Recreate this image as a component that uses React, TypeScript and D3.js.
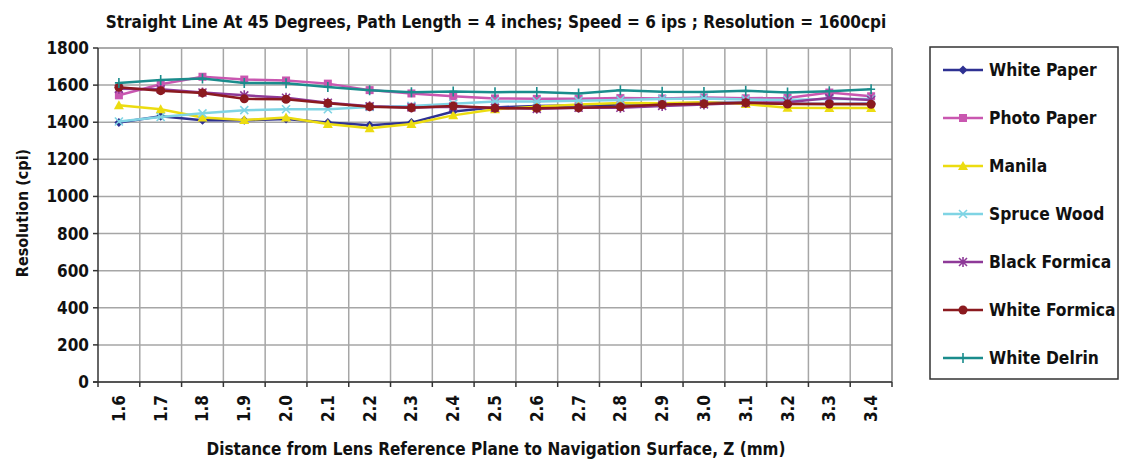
import React from "react";
import * as d3 from "d3";

const categories = ["1.6","1.7","1.8","1.9","2.0","2.1","2.2","2.3","2.4","2.5","2.6","2.7","2.8","2.9","3.0","3.1","3.2","3.3","3.4"];
const yTicks = [0, 200, 400, 600, 800, 1000, 1200, 1400, 1600, 1800];

const whitePaper = [1398, 1432, 1410, 1410, 1418, 1398, 1384, 1398, 1458, 1480, 1488, 1490, 1495, 1500, 1505, 1505, 1500, 1498, 1500];
const photoPaper = [1545, 1605, 1645, 1630, 1625, 1608, 1573, 1555, 1540, 1528, 1526, 1526, 1530, 1528, 1533, 1529, 1531, 1560, 1540];
const manila = [1492, 1470, 1425, 1412, 1426, 1390, 1367, 1390, 1437, 1470, 1484, 1495, 1503, 1502, 1508, 1498, 1478, 1477, 1476];
const spruceWood = [1404, 1428, 1448, 1465, 1470, 1470, 1482, 1488, 1500, 1512, 1512, 1516, 1520, 1525, 1528, 1522, 1520, 1525, 1525];
const blackFormica = [1580, 1578, 1560, 1545, 1532, 1505, 1486, 1480, 1484, 1478, 1472, 1478, 1478, 1488, 1496, 1505, 1508, 1530, 1520];
const whiteFormica = [1588, 1570, 1558, 1526, 1524, 1502, 1484, 1478, 1487, 1476, 1475, 1478, 1483, 1495, 1499, 1505, 1498, 1498, 1497];
const whiteDelrin = [1612, 1628, 1635, 1612, 1610, 1590, 1572, 1562, 1565, 1562, 1563, 1555, 1572, 1564, 1563, 1570, 1560, 1567, 1578];

const seriesNames = ["White Paper", "Photo Paper", "Manila", "Spruce Wood", "Black Formica", "White Formica", "White Delrin"];
const seriesValues = [whitePaper, photoPaper, manila, spruceWood, blackFormica, whiteFormica, whiteDelrin];
const seriesColors = ["#2e3192", "#c957b0", "#ecdc10", "#7fd4e4", "#8e3a98", "#8b1a1f", "#1a8c8c"];
const seriesMarkers = ["diamond", "square", "triangle", "x", "asterisk", "circle", "plus"];

const title = "Straight Line At 45 Degrees, Path Length = 4 inches; Speed = 6 ips ; Resolution = 1600cpi";
const xTitle = "Distance from Lens Reference Plane to Navigation Surface, Z (mm)";
const yTitle = "Resolution (cpi)";

const FONT = "'DejaVu Sans Condensed', 'DejaVu Sans', sans-serif";

function Marker({ type, x, y, color }: { type: string; x: number; y: number; color: string }) {
  switch (type) {
    case "diamond":
      return <path d={`M${x},${y - 4.5}L${x + 4.5},${y}L${x},${y + 4.5}L${x - 4.5},${y}Z`} fill={color} />;
    case "square":
      return <rect x={x - 4} y={y - 4} width={8} height={8} fill={color} />;
    case "triangle":
      return <path d={`M${x},${y - 5}L${x + 5},${y + 4}L${x - 5},${y + 4}Z`} fill={color} />;
    case "circle":
      return <circle cx={x} cy={y} r={4.5} fill={color} />;
    case "x":
      return <path d={`M${x - 4},${y - 4}L${x + 4},${y + 4}M${x - 4},${y + 4}L${x + 4},${y - 4}`} stroke={color} strokeWidth={1.6} />;
    case "asterisk":
      return <path d={`M${x - 4},${y - 4}L${x + 4},${y + 4}M${x - 4},${y + 4}L${x + 4},${y - 4}M${x},${y - 5}L${x},${y + 5}`} stroke={color} strokeWidth={1.6} />;
    case "plus":
      return <path d={`M${x - 4},${y}L${x + 4},${y}M${x},${y - 5}L${x},${y + 5}`} stroke={color} strokeWidth={1.6} />;
    default:
      return null;
  }
}

export default function App() {
  const W = 1121, H = 461;
  const left = 98, right = 892, top = 48, bottom = 382;
  const x = d3.scaleBand<string>().domain(categories).range([left, right]).padding(0);
  const y = d3.scaleLinear().domain([0, 1800]).range([bottom, top]);
  const bw = x.bandwidth();
  const cx = (c: string) => (x(c) as number) + bw / 2;
  const line = d3.line<number>().x((_, i) => cx(categories[i])).y((v) => y(v));

  const legendX = 930, legendY = 47, legendW = 188, legendH = 332;
  const rowY0 = 70, rowStep = 48;

  return (
    <div style={{ position: "absolute", left: 0, top: 0 }}>
      <svg width={W} height={H} style={{ display: "block", background: "#fff" }} fontFamily={FONT} fontWeight="bold">
        {/* gridlines */}
        {yTicks.map((t) => (
          <line key={"gy" + t} x1={left} x2={right} y1={y(t)} y2={y(t)} stroke="#a6a6a6" strokeWidth={1.5} />
        ))}
        {categories.map((c, i) =>
          i > 0 ? <line key={"gx" + c} x1={x(c)} x2={x(c)} y1={top} y2={bottom} stroke="#a6a6a6" strokeWidth={1.5} /> : null
        )}
        <line x1={right} x2={right} y1={top} y2={bottom} stroke="#808080" strokeWidth={1.5} />
        <line x1={left} x2={right} y1={top} y2={top} stroke="#a6a6a6" strokeWidth={1.5} />
        {/* axes */}
        <line x1={left} x2={left} y1={top} y2={bottom + 5} stroke="#333" strokeWidth={1.5} />
        <line x1={left - 5} x2={right} y1={bottom} y2={bottom} stroke="#333" strokeWidth={1.5} />
        {yTicks.map((t) => (
          <g key={"yt" + t}>
            <line x1={left - 5} x2={left} y1={y(t)} y2={y(t)} stroke="#333" strokeWidth={1.5} />
            <text x={left - 9} y={y(t)} textAnchor="end" dominantBaseline="central" fontSize={17} fill="#111">{t}</text>
          </g>
        ))}
        {categories.map((c, i) => (
          <g key={"xt" + c}>
            {i > 0 ? <line x1={x(c)} x2={x(c)} y1={bottom} y2={bottom + 5} stroke="#333" strokeWidth={1.5} /> : null}
            <text transform={`translate(${cx(c)},${bottom + 13}) rotate(-90)`} textAnchor="end" dominantBaseline="central" fontSize={17} fill="#111">{c}</text>
          </g>
        ))}
        <line x1={right} x2={right} y1={bottom} y2={bottom + 5} stroke="#333" strokeWidth={1.5} />
        {/* series */}
        {seriesValues.map((vals, si) => (
          <g key={"s" + si}>
            <path d={line(vals) || ""} fill="none" stroke={seriesColors[si]} strokeWidth={2.5} />
            {vals.map((v, i) => (
              <Marker key={i} type={seriesMarkers[si]} x={cx(categories[i])} y={y(v)} color={seriesColors[si]} />
            ))}
          </g>
        ))}
        {/* titles */}
        <text x={496} y={22} textAnchor="middle" dominantBaseline="central" fontSize={17} fill="#111">{title}</text>
        <text x={496} y={449} textAnchor="middle" dominantBaseline="central" fontSize={17} fill="#111">{xTitle}</text>
        <text transform={`translate(22,213) rotate(-90)`} textAnchor="middle" dominantBaseline="central" fontSize={16} fill="#111">{yTitle}</text>
        {/* legend */}
        <rect x={legendX} y={legendY} width={legendW} height={legendH} fill="#fff" stroke="#333" strokeWidth={1.5} />
        {seriesNames.map((n, i) => {
          const ry = rowY0 + i * rowStep;
          return (
            <g key={"lg" + i}>
              <line x1={943} x2={983} y1={ry} y2={ry} stroke={seriesColors[i]} strokeWidth={2.5} />
              <Marker type={seriesMarkers[i]} x={963} y={ry} color={seriesColors[i]} />
              <text x={989} y={ry} dominantBaseline="central" fontSize={17.3} fill="#111">{n}</text>
            </g>
          );
        })}
      </svg>
    </div>
  );
}
